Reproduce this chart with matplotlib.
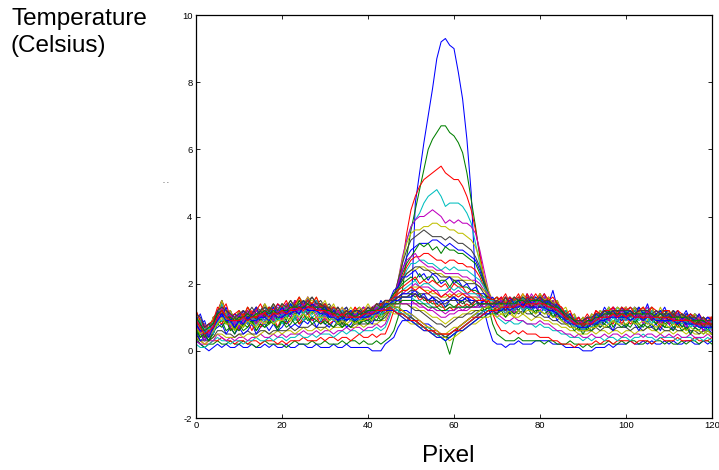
import numpy as np
import matplotlib
matplotlib.use("Agg")
import matplotlib.pyplot as plt

plt.rcParams['font.family'] = ['Liberation Sans', 'DejaVu Sans']

# ---------------- data (temperature in tenths of a degree, pixel 0..120) ----------------
x_ticks = [0, 20, 40, 60, 80, 100, 120]
y_ticks = [-2, 0, 2, 4, 6, 8, 10]
y_label = "Temperature\n(Celsius)"
x_label = "Pixel"

t01 = [3,2,1,0,1,2,1,2,1,1, 2,1,1,2,1,1,2,1,2,1, 1,2,1,1,2,2,1,1,2,1, 1,1,2,1,1,2,1,1,1,1,
       1,0,0,0,2,3,4,7,9,9, 10,44,53,62,70,78,87,92,93,91, 90,83,75,63,47,20,16,12,7,3,
       2,2,1,2,2,3,2,2,2,3, 3,3,3,2,2,2,1,1,1,1, 0,0,0,1,1,1,2,1,2,2, 2,3,2,2,3,2,3,2,2,3,
       2,3,2,2,3,3,2,2,3,2, 3]
t02 = [4,2,1,2,2,3,2,2,3,2, 2,3,2,2,1,2,3,2,2,2, 2,1,2,3,2,2,2,3,2,2, 3,2,2,2,3,2,3,3,2,3,
       2,2,3,2,3,4,6,10,18,28, 36,42,48,54,60,63,65,67,67,65, 64,62,59,53,45,37,28,20,13,8,
       5,4,3,3,3,4,3,3,3,3, 3,2,3,3,2,2,2,3,2,2, 1,2,1,2,2,2,3,2,2,3, 2,3,3,2,2,3,2,3,3,2,
       3,2,2,3,2,3,3,2,3,3, 2]
t03 = [5,3,2,2,3,3,4,3,3,2, 3,3,2,3,3,2,3,3,3,2, 3,2,3,3,3,4,3,3,3,4, 3,4,4,3,4,4,3,4,5,4,
       4,5,4,5,5,8,12,18,26,35, 42,46,49,51,52,53,54,55,53,52, 51,51,49,46,42,36,29,22,16,11,
       8,6,6,5,6,5,6,5,5,5, 4,4,4,3,3,2,2,2,1,2, 2,2,2,3,2,3,3,2,3,3, 3,3,2,3,3,3,2,3,4,3,
       3,3,4,3,3,3,4,3,3,3, 4]
t04 = [2,1,1,2,3,4,3,3,2,3, 3,2,3,3,4,3,3,4,3,4, 4,3,4,4,5,4,4,5,4,5, 5,5,4,5,6,5,6,6,5,6,
       6,6,7,6,7,10,14,20,27,33, 37,39,41,44,46,47,48,46,43,44, 44,44,43,41,38,32,26,20,15,12,
       10,9,8,9,8,8,9,8,8,7, 8,7,7,6,6,5,5,4,4,4, 3,4,3,4,4,3,4,4,3,4, 4,3,4,4,5,4,4,3,4,4,
       4,4,3,4,4,4,3,4,3,4, 3]
t05 = [3,2,2,3,3,5,4,3,4,3, 4,4,3,4,4,5,4,4,5,4, 5,4,5,5,5,6,5,5,6,5, 6,6,5,6,6,7,6,7,7,6,
       7,7,8,7,8,11,15,21,28,33, 37,39,40,40,41,42,41,40,38,39, 38,39,38,38,37,35,30,24,18,14,
       11,10,9,9,10,9,9,8,8,8, 9,8,8,7,6,6,5,5,4,5, 4,4,5,4,4,5,4,5,5,4, 5,4,5,5,4,5,5,4,5,4,
       5,4,5,4,4,5,4,4,4,5, 4]
t06 = [4,3,2,3,4,5,5,4,4,4, 5,4,5,5,4,5,6,5,5,6, 5,6,6,5,6,7,6,6,7,6, 7,6,7,7,7,8,7,7,8,7,
       8,8,8,9,9,12,16,21,27,32, 35,36,36,37,37,38,38,37,37,36, 36,35,35,34,33,31,27,22,18,15,
       12,11,10,11,10,10,11,10,9,10, 10,9,9,8,8,7,7,6,6,5, 5,5,6,5,6,6,5,6,6,5, 6,6,5,6,6,7,6,6,5,6,
       6,5,6,6,5,6,5,5,6,5, 5]
t07 = [5,3,3,3,4,6,6,5,5,4, 5,5,6,5,5,6,6,5,6,6, 6,6,7,6,7,7,7,8,7,7, 7,8,7,8,8,8,7,8,8,8,
       8,9,9,9,10,12,16,21,26,30, 33,34,35,36,35,34,34,34,33,34, 33,32,32,31,30,28,25,21,17,15,
       13,12,12,11,12,11,12,11,11,10, 11,10,10,9,9,8,8,7,7,6, 6,6,6,7,6,7,7,6,7,7, 7,6,7,7,6,7,7,6,7,6,
       6,7,6,6,7,6,6,5,6,6, 5]
t08 = [6,3,4,3,6,7,8,5,7,5, 7,5,6,8,5,7,8,6,8,6, 7,9,7,8,7,9,8,10,7,9, 8,7,9,8,10,7,8,10,8,9,
       9,8,11,10,11,13,16,20,24,28, 30,31,32,32,32,33,33,32,31,32, 31,30,30,29,28,27,24,20,17,15,
       14,12,14,11,13,12,11,14,12,13, 11,13,10,12,9,11,8,9,7,8, 6,8,7,9,7,9,8,6,9,8, 7,9,8,6,8,9,7,8,6,9,
       8,6,9,7,8,5,7,8,6,7, 5]
t09 = [7,4,5,3,6,8,9,6,7,5, 8,6,7,9,6,8,7,8,9,6, 9,7,8,10,8,9,10,8,9,10, 8,9,10,8,7,9,10,8,10,9,
       8,10,11,9,11,13,16,19,23,26, 28,30,32,31,32,30,31,29,31,30, 30,29,29,28,27,26,23,20,17,15,
       14,15,12,14,13,15,12,14,13,11, 14,12,13,10,12,9,10,8,9,6, 8,6,9,7,9,8,10,7,9,10, 7,9,10,8,7,9,10,8,9,7,
       9,7,8,9,6,8,7,6,8,6, 7]
t10 = [9,5,4,6,5,9,8,10,6,8, 6,8,9,6,9,7,9,8,10,7, 10,8,9,11,8,10,11,9,10,8, 10,8,9,10,8,10,9,11,8,10,
       9,11,10,12,11,13,16,19,22,25, 27,28,28,29,29,28,27,27,26,27, 27,26,26,25,25,24,22,19,17,15,
       15,13,15,12,14,14,13,15,12,14, 13,15,12,13,10,12,9,10,7,9, 6,9,7,10,8,10,9,8,11,8, 10,8,9,11,9,8,10,9,7,10,
       8,9,7,9,8,9,7,8,6,8, 7]
t11 = [8,7,4,6,7,8,11,8,9,6, 9,7,9,10,7,10,8,10,8,10, 8,10,11,9,11,9,12,10,11,9, 11,9,10,8,11,9,10,11,8,11,
       10,9,12,10,12,13,15,18,21,24, 26,26,27,27,26,26,25,24,25,24, 25,24,24,24,23,22,21,19,17,15,
       16,14,15,13,15,13,14,15,13,14, 15,13,14,12,13,10,11,8,10,7, 9,7,10,8,11,9,11,10,8,11, 9,10,11,9,10,8,11,10,9,10,
       10,8,10,9,10,7,9,8,7,9, 7]
t12 = [10,6,5,7,6,10,9,11,7,9, 7,10,8,9,10,8,11,9,10,11, 9,11,10,12,9,12,11,12,10,12, 9,11,10,11,8,10,11,9,11,10,
       11,10,12,11,13,14,16,20,24,27, 28,29,27,26,25,25,24,24,23,23, 23,23,22,22,21,21,20,18,17,15,
       14,16,13,15,15,14,16,13,15,14, 16,13,15,12,13,11,10,10,8,9, 7,10,8,11,9,11,10,12,9,10, 11,9,10,12,9,11,10,9,10,11,
       9,10,9,10,8,10,8,9,7,8, 9]
t13 = [9,8,5,7,8,9,12,9,10,7, 10,8,10,11,8,11,9,11,10,9, 11,10,12,10,12,11,13,11,12,10, 12,10,11,9,11,9,10,11,9,10,
       12,10,11,13,12,14,16,19,21,23, 24,24,25,25,24,24,23,23,22,22, 22,22,21,21,21,20,19,18,16,15,
       16,14,15,15,14,15,14,16,13,15, 14,15,13,14,12,13,10,11,8,10, 8,10,9,11,10,12,10,12,11,9, 12,10,11,10,12,9,11,10,9,11,
       10,11,9,10,9,8,10,8,9,7, 8]
t14 = [11,7,6,5,9,10,13,9,10,8, 9,11,8,11,10,9,12,10,12,9, 12,10,13,11,12,13,11,13,12,10, 11,12,10,11,9,11,10,9,12,10,
       11,12,11,13,13,15,17,19,21,23, 24,25,25,24,24,23,23,22,22,22, 21,21,21,20,20,20,19,17,16,15,
       14,16,14,15,16,13,15,14,16,14, 15,16,13,15,12,13,10,11,8,9, 7,9,8,10,11,9,12,10,11,12, 10,12,9,11,10,12,10,11,9,11,
       9,11,10,9,10,8,10,8,9,7, 9]
t15 = [9,6,5,4,7,10,12,9,9,7, 10,8,11,9,11,9,12,10,9,12, 10,12,11,13,11,13,14,11,13,12, 13,10,12,10,11,9,12,10,9,11,
       12,11,13,12,14,15,18,19,22,22, 23,24,22,23,21,23,22,20,21,22, 20,21,19,20,18,19,17,17,15,16,
       14,15,13,15,14,15,13,16,14,15, 16,14,15,13,14,11,12,9,10,7, 9,7,10,8,11,9,12,10,12,10, 11,12,10,11,12,10,12,11,9,11,
       12,9,11,10,8,11,9,10,7,9, 8]
t16 = [10,8,7,5,9,11,14,11,10,8, 11,9,11,10,8,12,10,12,11,9, 12,11,14,12,11,14,13,11,15,13, 12,13,10,12,9,11,10,12,12,9,
       11,13,12,13,14,15,17,18,20,21, 22,21,23,21,22,22,20,21,21,19, 21,20,19,19,18,18,17,16,16,15,
       16,14,15,16,13,16,15,14,16,16, 14,16,14,15,13,12,10,10,9,8, 10,7,10,9,11,10,13,11,10,13, 11,10,13,11,10,12,11,9,12,12,
       10,12,9,11,10,8,11,9,10,7, 9]
t17 = [11,9,6,8,9,12,15,12,10,11, 9,12,10,12,10,11,13,10,13,11, 13,12,12,15,12,13,16,13,14,14, 12,13,13,10,12,11,12,10,12,13,
       11,12,13,14,13,15,16,18,19,20, 21,22,20,21,20,21,20,19,20,18, 20,19,19,17,18,17,17,15,16,15,
       16,15,17,14,15,15,17,15,16,14, 17,15,15,14,15,12,11,10,8,9, 8,10,9,11,10,12,11,13,11,11, 13,11,11,12,10,11,13,10,11,12,
       11,10,12,10,11,10,9,11,9,10, 10]
t18 = [9,7,5,5,7,11,12,10,9,10, 8,10,9,11,11,9,11,10,12,12, 10,12,13,13,12,15,13,12,14,12, 12,11,11,12,10,10,11,12,9,11,
       12,11,12,13,14,15,16,17,18,19, 20,21,19,20,20,19,18,18,18,19, 18,19,18,17,17,17,16,16,15,15,
       14,15,15,14,14,16,15,16,14,14, 15,16,14,13,13,12,10,10,9,7, 8,9,9,8,10,11,12,11,12,10, 12,11,12,10,11,13,11,10,10,12,
       11,10,10,9,11,9,10,9,8,8, 9]
t19 = [8,5,5,4,6,9,12,10,11,8, 9,8,11,9,10,11,9,11,12,10, 12,11,12,12,14,12,14,13,12,13, 12,11,12,10,11,10,9,11,10,10,
       11,10,12,12,13,14,15,16,17,18, 19,20,19,19,19,18,18,16,17,18, 17,18,17,17,16,16,16,15,15,14,
       14,16,14,13,15,14,15,15,14,15, 14,15,13,13,12,11,10,9,9,7, 7,8,9,9,10,10,12,10,11,11, 11,10,12,11,10,11,11,10,12,10,
       10,10,11,9,10,9,9,10,8,8, 8]
t20 = [10,8,6,7,8,11,14,11,10,9, 10,11,11,10,12,11,12,11,13,12, 12,12,14,13,14,14,15,15,14,13, 14,12,12,11,11,12,11,11,10,12,
       12,12,13,14,14,15,16,17,18,18, 19,19,19,18,18,17,17,16,16,17, 16,17,17,16,16,16,15,15,15,14,
       15,15,16,14,15,15,15,16,16,15, 17,15,15,14,13,12,11,10,10,9, 9,9,10,10,11,11,12,12,11,13, 12,11,11,12,13,11,12,11,12,11,
       11,12,10,10,11,10,11,10,9,9, 9]
t21 = [9,6,5,7,7,10,13,10,8,9, 10,9,11,11,10,9,12,12,10,11, 12,11,13,13,12,14,13,14,12,13, 13,12,10,11,10,12,10,9,11,12,
       11,12,12,13,14,14,15,16,17,17, 18,18,17,17,17,16,16,15,15,16, 16,15,16,15,15,15,14,14,14,14,
       13,14,15,13,14,15,14,15,13,14, 15,13,14,13,12,12,11,9,9,9, 8,8,10,9,10,11,12,11,10,11, 12,11,10,11,12,11,10,11,11,10,
       10,11,9,10,10,9,10,8,9,9, 8]
t22 = [11,8,9,5,10,11,15,10,12,9, 11,9,12,10,13,11,10,13,11,14, 12,14,11,15,13,12,16,13,15,12, 14,11,13,10,12,13,10,12,11,13,
       11,13,12,15,13,15,16,16,17,17, 17,18,16,17,15,16,14,15,13,15, 16,14,15,16,14,15,13,15,14,13,
       15,14,16,13,15,15,14,17,14,16, 15,17,14,18,13,12,10,11,9,10, 8,10,9,11,10,13,11,13,12,11, 13,11,13,12,11,14,10,12,11,13,
       10,12,11,10,12,9,11,10,9,10, 9]
t23 = [7,5,3,6,6,10,10,8,10,6, 9,7,10,8,10,9,11,8,11,9, 11,9,12,10,13,11,13,11,12,10, 12,9,11,10,8,10,9,11,8,10,
       11,10,12,11,13,13,14,15,16,16, 17,16,17,15,15,14,14,13,13,14, 13,14,15,13,14,13,14,12,13,12,
       13,14,12,13,14,12,14,13,12,14, 13,14,12,13,11,11,9,10,7,8, 6,8,7,9,8,10,9,11,9,10, 9,11,8,10,9,11,9,8,10,8,
       9,8,10,7,9,8,9,7,8,6, 7]
t24 = [10,9,5,7,8,11,14,10,10,8, 11,9,12,10,12,11,13,10,13,11, 12,14,12,13,15,13,15,13,14,12, 14,12,11,13,11,12,10,13,11,12,
       12,13,12,14,14,15,15,16,16,16, 16,17,15,16,14,15,13,14,12,13, 12,14,13,14,13,15,14,14,15,13,
       15,14,16,13,15,16,14,17,15,14, 16,14,16,13,14,11,12,9,10,8, 9,11,9,12,10,12,11,13,11,12, 13,10,12,11,13,11,12,10,12,10,
       11,10,12,9,11,10,9,10,8,9, 10]
t25 = [8,7,6,4,8,9,12,10,8,10, 8,10,9,11,10,12,10,11,12,10, 12,11,13,12,14,12,14,13,12,14, 11,13,10,12,11,10,12,9,11,12,
       10,12,13,12,14,14,15,15,16,16, 16,15,15,14,14,13,12,12,12,12, 12,13,13,13,13,13,13,13,14,13,
       14,13,15,13,14,14,13,16,13,15, 14,15,13,14,11,12,10,10,8,9, 7,9,8,10,9,11,10,12,10,11, 12,10,11,12,10,12,10,11,9,11,
       10,9,11,9,10,8,10,8,9,7, 8]
t26 = [11,7,7,5,9,10,14,11,11,9, 11,10,12,10,13,11,12,13,11,13, 12,14,12,15,13,14,16,13,15,13, 14,12,13,11,13,10,12,11,12,13,
       11,13,14,13,15,15,15,15,15,15, 15,14,14,13,12,12,11,10,10,11, 11,12,12,12,13,13,13,14,14,14,
       13,15,14,16,13,15,16,14,17,15, 14,16,14,15,12,13,10,11,8,10, 7,10,9,11,10,12,11,13,10,12, 13,10,12,11,12,13,10,12,11,10,
       12,9,11,10,11,9,10,8,10,8, 9]
t27 = [10,6,6,4,8,9,13,9,10,8, 10,8,11,9,11,10,12,9,12,10, 12,11,13,12,13,12,14,12,14,11, 13,10,12,9,11,10,9,11,9,12,
       10,12,11,13,12,13,14,14,14,14, 13,13,12,12,11,10,10,9,8,9, 10,10,11,11,12,12,12,13,13,13,
       14,12,14,13,15,13,14,15,13,15, 13,15,12,14,11,12,9,10,7,9, 6,9,8,10,9,11,10,12,10,11, 12,9,11,10,12,10,11,9,11,9,
       11,9,10,8,10,9,8,10,7,8, 8]
t28 = [12,8,8,6,10,11,15,11,12,9, 12,10,13,11,13,12,14,11,14,12, 14,13,15,13,16,14,15,16,14,15, 13,14,12,13,11,13,11,12,13,11,
       13,12,14,14,15,15,15,15,14,14, 13,12,12,11,10,9,8,8,7,8, 9,10,10,11,11,12,12,13,13,14,
       15,13,15,14,16,15,16,14,16,15, 17,14,16,14,15,11,12,10,11,8, 10,8,11,10,12,11,13,11,13,12, 11,13,12,13,11,12,13,10,12,12,
       10,12,10,11,9,11,10,9,10,8, 10]
t29 = [7,6,3,5,5,10,10,11,7,9, 7,10,8,10,9,11,9,11,10,12, 10,12,11,13,11,14,12,13,12,11, 12,10,12,9,11,9,11,10,9,11,
       10,12,11,13,12,13,13,13,12,12, 11,10,9,8,8,7,6,5,4,5, 6,7,8,9,10,11,11,12,12,12,
       11,13,12,14,12,14,13,15,12,14, 13,15,12,13,11,12,9,10,7,8, 6,8,7,9,8,10,9,11,10,9, 11,9,10,11,9,11,9,10,8,10,
       9,10,8,10,8,9,7,9,6,8, 7]
t30 = [10,9,5,7,6,11,12,12,9,10, 9,11,10,11,10,12,11,13,11,12, 13,12,14,12,15,13,15,14,13,14, 12,13,11,12,10,12,10,12,11,10,
       12,11,13,12,14,14,13,13,12,11, 10,9,8,7,7,6,5,4,3,-1, 4,7,8,9,10,11,12,12,13,13,
       14,12,15,13,15,13,16,14,15,14, 16,13,15,12,14,11,12,9,10,7, 9,7,10,9,11,10,12,10,12,10, 12,10,12,10,11,12,10,11,9,11,
       11,9,11,9,10,8,10,8,9,7, 8]
t31 = [9,8,4,6,6,11,11,12,8,10, 8,11,9,11,10,11,10,12,11,12, 11,13,12,13,12,14,13,14,12,14, 11,13,10,12,9,12,10,11,10,12,
       10,13,11,14,12,13,13,12,12,11, 10,9,9,8,7,6,6,5,5,5, 6,7,8,9,10,10,11,12,12,13,
       12,14,12,15,12,14,13,15,13,15, 13,15,12,14,11,12,9,10,8,9, 7,9,8,10,9,11,10,12,10,11, 10,11,10,12,9,12,10,11,9,11,
       9,11,8,10,9,10,8,9,7,9, 7]
t32 = [11,7,7,5,9,10,14,11,11,8, 11,10,11,10,12,11,13,11,13,11, 14,12,14,13,14,13,15,14,15,13, 14,12,13,11,12,10,12,10,12,11,
       13,11,14,12,14,13,13,12,11,11, 10,9,8,7,7,6,5,5,4,5, 6,6,7,8,9,10,11,12,12,13,
       14,12,15,13,15,14,16,14,15,14, 16,14,15,13,14,11,12,9,10,7, 9,8,10,9,12,10,13,10,13,11, 12,11,12,11,12,10,12,10,12,10,
       11,10,11,9,11,8,10,9,10,7, 9]
t33 = [7,6,3,6,5,10,10,11,7,9, 7,9,8,10,8,11,9,11,9,11, 10,12,10,13,11,13,12,13,11,13, 10,12,9,11,9,10,9,10,9,11,
       9,12,10,13,11,12,12,11,11,10, 9,9,8,7,6,6,5,4,4,4, 5,6,7,8,9,10,10,11,11,12,
       11,13,11,14,11,14,12,14,12,13, 12,14,11,13,10,11,8,9,7,8, 6,8,7,9,8,10,9,11,9,10, 9,10,9,11,8,11,9,10,8,10,
       8,10,8,9,7,9,7,8,6,8, 6]
t34 = [12,8,8,6,10,11,15,11,12,9, 12,10,13,11,13,11,14,12,14,12, 14,13,15,13,16,14,16,14,16,13, 15,12,14,11,13,11,13,11,13,12,
       14,12,14,13,15,14,13,13,12,11, 11,10,9,8,7,7,6,5,5,6, 7,7,8,9,10,11,12,13,13,14,
       15,13,15,14,16,14,17,15,16,15, 17,15,16,14,15,12,13,10,11,8, 10,8,11,10,12,11,13,11,13,12, 13,11,13,11,13,11,13,10,13,10,
       12,10,12,10,11,9,11,9,10,8, 10]
t35 = [8,8,4,6,6,11,11,11,8,10, 8,10,9,11,9,12,10,12,10,12, 11,13,11,14,12,14,12,14,12,14, 11,13,10,12,10,11,9,11,10,12,
       10,13,11,13,12,13,12,12,11,10, 10,9,8,7,6,6,5,5,4,5, 6,6,7,8,9,10,11,11,12,12,
       11,13,12,14,12,15,13,15,13,14, 13,15,12,14,11,12,9,10,8,9, 7,9,8,10,9,11,10,12,10,11, 10,11,10,11,9,12,9,11,9,11,
       9,11,8,10,8,10,8,9,7,9, 7]
t36 = [9,11,7,8,6,12,10,13,9,11, 10,12,9,11,13,10,12,10,13,11, 13,11,14,12,13,15,12,14,13,12, 13,10,12,11,9,11,12,10,12,10,
       12,11,13,12,14,14,15,15,16,16, 16,17,16,16,15,16,15,14,15,15, 16,15,15,16,15,15,14,15,14,13,
       14,15,13,16,14,15,13,16,14,15, 16,14,15,13,14,12,10,11,9,8, 9,10,8,11,10,12,11,12,10,13, 11,12,10,13,11,12,10,11,12,10,
       11,10,12,9,11,10,9,11,8,10, 9]
t37 = [6,4,5,3,5,8,7,9,6,7, 6,8,7,9,6,8,7,9,8,7, 9,8,10,8,9,11,9,10,9,8, 9,8,7,9,7,8,7,9,8,9,
       9,10,9,11,11,12,12,11,11,10, 9,8,8,7,6,5,5,4,4,4, 5,6,6,7,8,9,10,10,11,11,
       11,12,10,12,11,12,11,13,11,12, 12,11,12,10,11,9,8,8,6,7, 5,7,6,8,7,8,7,9,8,7, 8,7,9,7,8,7,8,6,8,7,
       7,6,8,6,7,5,7,6,5,6, 5]
t38 = [12,9,7,8,9,13,12,14,10,11, 12,10,13,11,12,14,11,13,12,14, 13,15,12,14,16,13,15,14,16,13, 14,12,13,12,10,12,11,13,11,12,
       13,12,14,13,15,15,16,17,18,18, 19,18,19,18,17,18,17,16,17,16, 17,16,17,16,16,15,15,15,14,14,
       15,16,14,16,15,17,14,16,15,17, 15,17,15,16,14,13,11,12,9,10, 8,10,9,12,11,12,12,13,11,13, 12,13,11,12,13,11,13,12,11,12,
       12,10,12,11,10,11,10,9,10,8, 10]
t39 = [8,9,5,7,5,9,9,11,8,9, 8,10,8,10,9,10,9,11,10,9, 11,10,12,10,12,11,13,11,12,10, 11,10,9,11,9,10,9,10,9,10,
       11,10,12,11,12,13,12,12,11,10, 9,8,7,7,6,5,5,4,3,4, 5,6,7,8,9,10,10,11,12,12,
       12,13,11,13,12,14,12,13,12,13, 14,12,13,11,12,10,9,9,7,8, 6,8,7,9,8,10,8,10,9,10, 9,10,9,10,9,10,8,10,9,9,
       9,8,9,8,9,7,8,7,7,6, 7]
t40 = [10,7,8,5,8,10,13,10,11,8, 11,9,11,10,12,10,12,11,10,12, 11,13,12,13,12,14,13,12,14,12, 12,11,10,12,10,11,10,11,10,11,
       12,11,13,12,13,14,14,14,14,14, 14,14,13,13,12,13,12,12,11,12, 12,13,12,13,13,13,14,13,14,14,
       13,15,13,14,14,13,15,14,15,13, 15,14,13,14,12,11,10,10,8,9, 8,9,8,10,9,11,10,11,10,12, 10,11,10,11,10,12,10,10,11,10,
       10,9,11,9,10,9,9,10,8,9, 8]
t41 = [7,5,6,4,6,8,10,8,8,6, 8,7,9,8,7,9,8,10,8,9, 9,10,9,11,10,11,10,12,10,10, 10,9,10,8,9,8,9,8,9,9,
       10,9,11,10,11,12,11,11,10,9, 8,8,7,6,6,5,4,4,4,3, 4,5,6,7,8,8,9,10,10,11,
       10,11,11,12,10,12,11,12,12,11, 12,11,11,10,10,9,8,7,7,6, 6,6,7,7,8,7,8,9,8,8, 8,9,8,8,9,8,8,7,8,8,
       7,8,7,7,6,7,6,6,5,6, 5]
t42 = [11,10,7,8,8,12,13,12,11,10, 11,12,11,13,11,12,13,12,14,12, 14,13,15,13,14,15,14,16,14,14, 13,13,11,13,11,12,11,12,12,11,
       13,12,14,13,15,15,15,16,16,16, 17,17,16,16,15,15,15,14,14,15, 15,15,14,15,14,15,14,14,14,14,
       15,14,16,14,16,15,16,15,16,15, 16,15,15,14,13,12,11,10,9,9, 9,10,10,11,11,12,11,12,12,12, 12,12,11,12,12,12,11,12,11,11,
       11,11,10,11,10,10,10,9,10,9, 9]
t43 = [8,6,6,4,7,9,11,9,9,7, 9,8,10,9,9,10,10,9,11,10, 10,11,11,12,11,13,12,12,12,11, 11,10,10,9,10,9,10,9,10,10,
       10,11,11,12,12,12,12,11,10,9, 9,8,7,6,6,5,4,4,3,4, 5,6,6,7,8,9,10,11,11,12,
       12,12,13,12,13,13,14,13,13,13, 13,13,12,12,11,10,9,8,8,7, 7,7,8,8,9,9,10,10,10,10, 10,9,10,10,9,10,10,9,9,9,
       9,9,8,9,8,8,8,7,7,7, 7]
t44 = [10,8,6,7,8,11,12,10,10,9, 10,10,11,10,11,11,12,11,12,11, 12,12,13,13,13,13,14,13,13,13, 12,12,11,11,10,11,11,10,11,11,
       12,12,12,13,13,14,14,14,15,15, 15,15,14,14,13,13,13,12,12,13, 13,13,13,13,13,14,14,14,14,14,
       14,14,14,14,14,15,15,14,15,15, 15,14,14,13,13,12,10,10,9,8, 8,9,9,10,10,11,11,11,11,11, 11,11,11,11,11,11,11,10,11,10,
       10,10,10,10,10,9,9,9,9,8, 8]
t45 = [9,7,5,6,7,10,12,10,9,9, 9,10,9,10,10,11,11,10,11,11, 12,11,12,12,13,12,13,13,12,12, 12,11,11,10,11,10,10,10,10,11,
       11,11,12,12,12,13,12,11,11,10, 9,9,8,7,6,6,5,5,5,5, 6,6,7,8,9,10,10,11,12,12,
       12,13,13,13,13,14,13,14,14,14, 14,14,13,13,12,11,10,9,8,8, 8,8,8,9,10,10,10,11,10,11, 10,11,10,10,10,10,10,10,10,10,
       10,9,9,9,9,9,8,8,8,8, 8]

profiles = [t01, t02, t03, t04, t05, t06, t07, t08, t09, t10, t11, t12, t13, t14, t15,
            t16, t17, t18, t19, t20, t21, t22, t23, t24, t25, t26, t27, t28, t29, t30,
            t31, t32, t33, t34, t35, t36, t37, t38, t39, t40, t41, t42, t43, t44, t45]

# MATLAB classic colour order
color_order = [(0, 0, 1), (0, 0.5, 0), (1, 0, 0), (0, 0.75, 0.75),
               (0.75, 0, 0.75), (0.75, 0.75, 0), (0.25, 0.25, 0.25)]

# ---------------- figure ----------------
W, H = 719, 470
fig = plt.figure(figsize=(W / 100, H / 100), dpi=100)
ax = fig.add_axes([196 / W, 1 - 418 / H, (712 - 196) / W, (418 - 15) / H])

for i, prof in enumerate(profiles):
    vals = np.array(prof, dtype=float) / 10.0
    px = np.arange(len(vals))
    ax.plot(px, vals, color=color_order[i % len(color_order)], lw=0.75)

ax.set_xlim(0, 120)
ax.set_ylim(-2, 10)
ax.set_xticks(x_ticks)
ax.set_yticks(y_ticks)
ax.set_xticklabels([str(v) for v in x_ticks])
ax.set_yticklabels([str(v) for v in y_ticks])
ax.tick_params(direction='in', length=3, width=0.6, labelsize=6.8,
               top=True, right=True, pad=2.5)
for s in ax.spines.values():
    s.set_linewidth(0.9)

lines = y_label.split("\n")
fig.text(11 / W, 1 - 25.5 / H, lines[0], fontsize=17.5, ha='left', va='baseline')
fig.text(11 / W, 1 - 52 / H, lines[1], fontsize=17.5, ha='left', va='baseline')
fig.text(448 / W, 1 - 462.5 / H, x_label, fontsize=17.5, ha='center', va='baseline')
fig.text(166 / W, 1 - 184 / H, "` `", fontsize=4.5, ha='center', va='center')

fig.savefig("out.png", dpi=100)
